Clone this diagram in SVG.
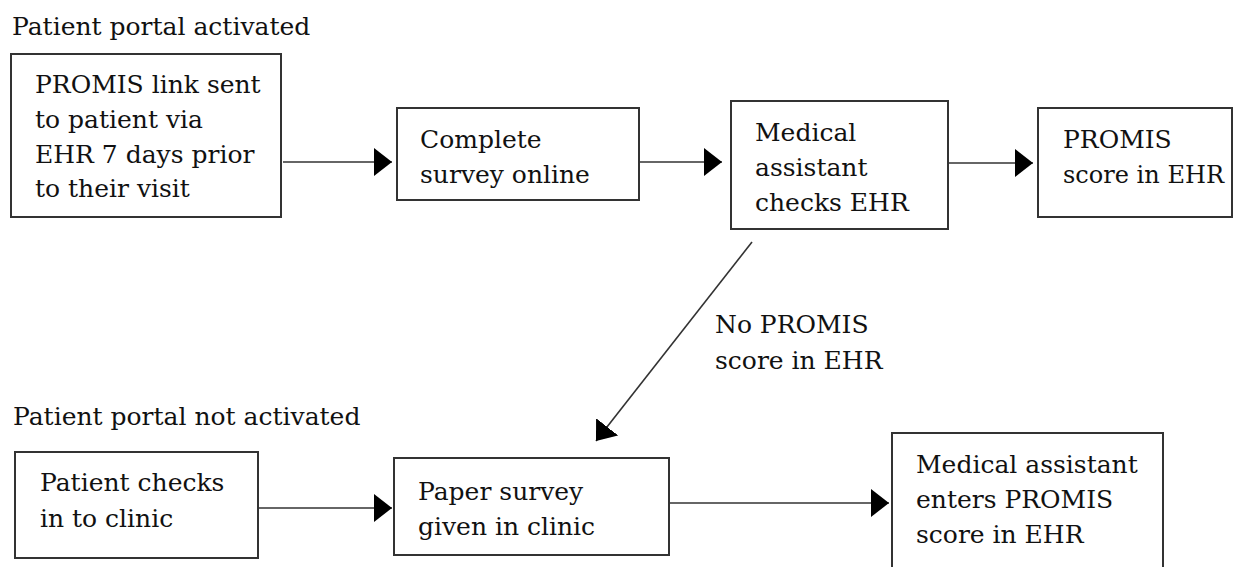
<svg xmlns="http://www.w3.org/2000/svg" width="1244" height="567" viewBox="0 0 1244 567">
<style>
text{font-family:"DejaVu Serif","Liberation Serif",serif;font-size:25px;fill:#111}
.box{fill:#fff;stroke:#333;stroke-width:2}
.conn{stroke:#333;stroke-width:1.6;fill:none;marker-end:url(#ah)}
</style>
<defs>
<marker id="ah" markerUnits="userSpaceOnUse" markerWidth="18" markerHeight="28" refX="18" refY="14" orient="auto" viewBox="0 0 18 28">
<path d="M0,0 L18,14 L0,28 Z" fill="#000"/>
</marker>
</defs>
<rect width="1244" height="567" fill="#fff"/>
<g id="labels">
<text x="12" y="35">Patient portal activated</text>
<text x="13" y="425">Patient portal not activated</text>
</g>
<g id="connectors">
<line class="conn" x1="283" y1="162" x2="392" y2="162"/>
<line class="conn" x1="640" y1="162" x2="722" y2="162"/>
<line class="conn" x1="949" y1="163" x2="1033" y2="163"/>
<line class="conn" x1="752" y1="242" x2="596" y2="441"/>
<line class="conn" x1="259" y1="508" x2="392" y2="508"/>
<line class="conn" x1="670" y1="503" x2="889" y2="503"/>
<g id="edge-label">
<text x="715" y="333">No PROMIS</text>
<text x="715" y="369">score in EHR</text>
</g>
</g>
<g id="n1">
<rect class="box" x="11" y="54" width="270" height="163"/>
<text x="35" y="93">PROMIS link sent</text>
<text x="35" y="128">to patient via</text>
<text x="35" y="163">EHR 7 days prior</text>
<text x="35" y="197">to their visit</text>
</g>
<g id="n2">
<rect class="box" x="397" y="108" width="242" height="92"/>
<text x="420" y="148">Complete</text>
<text x="420" y="183">survey online</text>
</g>
<g id="n3">
<rect class="box" x="731" y="101" width="217" height="128"/>
<text x="755" y="141">Medical</text>
<text x="755" y="176">assistant</text>
<text x="755" y="211">checks EHR</text>
</g>
<g id="n4">
<rect class="box" x="1038" y="108" width="194" height="109"/>
<text x="1063" y="148">PROMIS</text>
<text x="1063" y="183" textLength="161" lengthAdjust="spacingAndGlyphs">score in EHR</text>
</g>
<g id="n5">
<rect class="box" x="15" y="452" width="243" height="106"/>
<text x="40" y="491">Patient checks</text>
<text x="40" y="527">in to clinic</text>
</g>
<g id="n6">
<rect class="box" x="394" y="458" width="275" height="97"/>
<text x="418" y="500">Paper survey</text>
<text x="418" y="535">given in clinic</text>
</g>
<g id="n7">
<rect class="box" x="892" y="433" width="271" height="150"/>
<text x="916" y="473">Medical assistant</text>
<text x="916" y="508">enters PROMIS</text>
<text x="916" y="543">score in EHR</text>
</g>
</svg>
